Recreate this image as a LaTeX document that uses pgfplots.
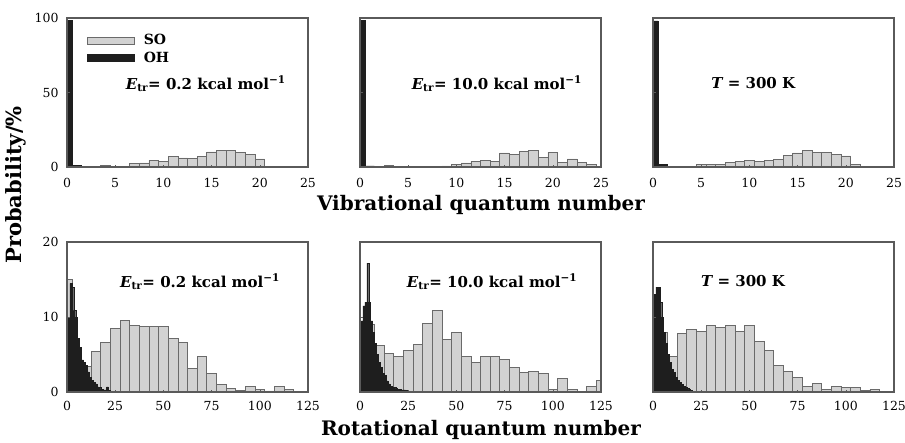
\documentclass[border=0pt]{standalone}
\usepackage{pgfplots}
\pgfplotsset{compat=1.18}
\usepackage{fontspec}
\setmainfont{DejaVu Serif}
\definecolor{soc}{HTML}{D2D2D2}
\definecolor{soedge}{HTML}{6A6A6A}
\definecolor{ohc}{HTML}{1E1E1E}
\definecolor{framec}{HTML}{5A5A5A}
\pgfplotsset{
  panel/.style={scale only axis, width=241pt, axis on top,
    axis line style={draw=framec,line width=1.3pt},
    tick style={draw=framec,line width=0.6pt}, major tick length=2.5pt,
    tick align=inside, xtick pos=left, ytick pos=left,
    ticklabel style={font=\fontsize{12.5}{12.5}\selectfont},
    /pgf/number format/assume math mode=true},
  vib/.style={panel, height=149pt, xmin=0, xmax=25, ymin=0, ymax=100,
    xtick={0,5,...,25}, ytick={0,50,100},
    xticklabel style={yshift=-8pt}, yticklabel style={xshift=-5pt}},
  rot/.style={panel, height=150pt, xmin=0, xmax=125, ymin=0, ymax=20,
    xtick={0,25,...,125}, ytick={0,10,20},
    xticklabel style={yshift=-6pt}, yticklabel style={xshift=-5pt}},
  so/.style={ybar, bar width=#1, bar shift=0pt, fill=soc, draw=soedge, line width=0.6pt, forget plot},
  oh/.style={ybar, bar width=1, bar shift=0pt, fill=ohc, draw=ohc, line width=0.3pt, forget plot},
}
\tikzset{ann/.style={anchor=base, font=\bfseries\fontsize{15}{15}\selectfont}}
\newcommand{\Etr}{{\itshape E}\textsubscript{tr}=}
\begin{document}
\begin{tikzpicture}[x=1pt,y=1pt]
\useasboundingbox (0,0) rectangle (905,-442);
% ---- top row: vibrational ----
\begin{axis}[vib, at={(67pt,-167pt)}, anchor=south west,
  legend style={at={(0.083,0.905)}, anchor=north west, draw=none, fill=none,
    font=\bfseries\fontsize{14}{14}\selectfont, inner sep=0pt, row sep=2pt},
  legend cell align=left]
\addplot[so=1] coordinates {(4,1.3) (6,0.3) (7,2.3) (8,2.8) (9,4.5) (10,3.8) (11,7.0) (12,6.1) (13,5.8) (14,7.0) (15,10.2) (16,11.0) (17,11.0) (18,9.8) (19,8.7) (20,5.5)};
\addplot[oh] coordinates {(0,98.5) (1,1.2) (2,0.2)};
\addlegendimage{legend image code/.code={\draw[fill=soc,draw=soedge,line width=0.6pt] (0pt,-3.5pt) rectangle (47pt,3.5pt);}}
\addlegendentry{\hspace{7pt}SO}
\addlegendimage{legend image code/.code={\draw[fill=ohc,draw=ohc] (0pt,-3.5pt) rectangle (47pt,3.5pt);}}
\addlegendentry{\hspace{7pt}OH}
\node[ann] at (axis cs:14.4,52.3) {\Etr{} 0.2 kcal mol\textsuperscript{−1}};
\end{axis}
\begin{axis}[vib, at={(360pt,-167pt)}, anchor=south west, yticklabels={}]
\addplot[so=1] coordinates {(1,0.3) (2,0.3) (3,1.1) (4,0.3) (5,0.3) (6,0.4) (7,0.4) (8,0.5) (9,0.7) (10,1.6) (11,2.8) (12,3.9) (13,4.4) (14,3.5) (15,9.4) (16,8.7) (17,10.5) (18,11.4) (19,6.7) (20,10.0) (21,3.2) (22,5.5) (23,3.2) (24,1.8) (25,0.5)};
\addplot[oh] coordinates {(0,98.5) (1,0.8)};
\node[ann] at (axis cs:14.2,52.3) {\Etr{} 10.0 kcal mol\textsuperscript{−1}};
\end{axis}
\begin{axis}[vib, at={(653pt,-167pt)}, anchor=south west, yticklabels={}]
\addplot[so=1] coordinates {(2,0.3) (3,0.3) (4,0.4) (5,1.5) (6,1.5) (7,2.0) (8,2.9) (9,4.0) (10,4.7) (11,4.0) (12,4.5) (13,4.9) (14,7.6) (15,9.5) (16,11.3) (17,9.9) (18,10.0) (19,8.5) (20,7.5) (21,1.8) (22,0.4)};
\addplot[oh] coordinates {(0,98) (1,2)};
\node[ann] at (axis cs:10.4,53) {{\itshape T} = 300 K};
\end{axis}
% ---- bottom row: rotational ----
\begin{axis}[rot, at={(67pt,-392pt)}, anchor=south west]
\addplot[so=5] coordinates {(0,15) (5,6) (10,3.4) (15,5.4) (20,6.6) (25,8.5) (30,9.6) (35,8.9) (40,8.7) (45,8.8) (50,8.7) (55,7.2) (60,6.6) (65,3.1) (70,4.7) (75,2.5) (80,1.0) (85,0.5) (90,0.25) (95,0.8) (100,0.3) (105,0.15) (110,0.8) (115,0.3) (120,0.05)};
\addplot[oh] coordinates {(0,10) (1,10) (2,14.5) (3,14) (4,10.9) (5,10) (6,7.2) (7,6) (8,4.3) (9,4) (10,3.6) (11,2.7) (12,2.0) (13,1.6) (14,1.3) (15,1.1) (16,0.7) (17,0.6) (18,0.35) (19,0.3) (20,0.3) (21,0.7) (22,0.2)};
\node[ann] at (axis cs:69,14.0) {\Etr{} 0.2 kcal mol\textsuperscript{−1}};
\end{axis}
\begin{axis}[rot, at={(360pt,-392pt)}, anchor=south west, yticklabels={}]
\addplot[so=5] coordinates {(0,8) (5,9) (10,6.2) (15,5.2) (20,4.7) (25,5.6) (30,6.3) (35,9.2) (40,10.9) (45,7.0) (50,8.0) (55,4.7) (60,4.0) (65,4.7) (70,4.7) (75,4.4) (80,3.3) (85,2.6) (90,2.8) (95,2.5) (100,0.3) (105,1.8) (110,0.3) (115,0.05) (120,0.8) (125,1.6)};
\addplot[oh] coordinates {(0,9) (1,9.5) (2,11.5) (3,12) (4,17.2) (5,12) (6,9.5) (7,8) (8,6.5) (9,5) (10,4) (11,3.3) (12,2.5) (13,2.2) (14,1.5) (15,1.1) (16,0.8) (17,0.7) (18,0.6) (19,0.5) (20,0.4) (21,0.4) (22,0.3) (23,0.3) (24,0.2)};
\node[ann] at (axis cs:68.5,14.0) {\Etr{} 10.0 kcal mol\textsuperscript{−1}};
\end{axis}
\begin{axis}[rot, at={(653pt,-392pt)}, anchor=south west, yticklabels={}]
\addplot[so=5] coordinates {(0,10) (5,8) (10,4.7) (15,7.8) (20,8.3) (25,8.1) (30,8.9) (35,8.6) (40,8.9) (45,8.1) (50,8.9) (55,6.8) (60,5.6) (65,3.5) (70,2.7) (75,2.0) (80,0.7) (85,1.2) (90,0.4) (95,0.7) (100,0.6) (105,0.6) (110,0.25) (115,0.4) (120,0.02)};
\addplot[oh] coordinates {(0,9) (1,13) (2,14) (3,14) (4,12) (5,10) (6,8) (7,6.5) (8,5) (9,4) (10,3) (11,2.6) (12,2) (13,1.6) (14,1.3) (15,1) (16,0.8) (17,0.6) (18,0.5) (19,0.35) (20,0.2) (21,0.1)};
\node[ann] at (axis cs:46.7,14.1) {{\itshape T} = 300 K};
\end{axis}
% ---- shared labels ----
\node[anchor=base, font=\bfseries\fontsize{20}{20}\selectfont] at (481,-210) {Vibrational quantum number};
\node[anchor=base, font=\bfseries\fontsize{20}{20}\selectfont] at (481,-435) {Rotational quantum number};
\node[rotate=90, font=\bfseries\fontsize{21}{21}\selectfont] at (16,-185) {Probability/\%};
\end{tikzpicture}
\end{document}
